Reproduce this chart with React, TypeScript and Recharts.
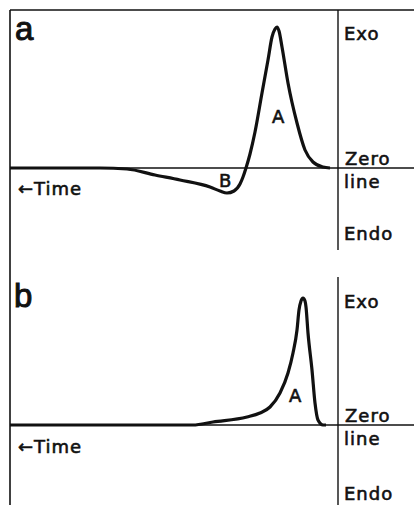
import React from 'react';
import { LineChart, Line, XAxis, YAxis, ReferenceLine } from 'recharts';

// Curve a: exotherm A preceded by endotherm B
const timeA = [0, 45, 58.5, 72.5, 85, 100, 105, 108.5, 112, 115, 116.5, 118, 120, 122.5, 126, 129, 131, 132.5, 133.5, 134.5, 136, 139, 143.5, 147.5, 151.5, 156.5, 160];
const heatA = [0, 0, -1, -7, -12, -19, -23, -25, -23, -16, -9, 0, 14, 36, 75, 108, 131, 139, 141, 137, 121, 85, 45, 18, 6, 1, 0];

// Curve b: exotherm A only
const timeB = [0, 91.5, 101.5, 118.5, 125, 130, 135, 139, 141.5, 143.5, 144.5, 145.5, 146.5, 147.5, 148, 149, 151, 152.5, 154, 156.5, 158];
const heatB = [0, 0, 3, 8, 12, 18, 32, 52, 72, 95, 115, 124, 127, 124, 118, 92, 55, 22, 5, 0, 0];

const rightLabels = ['Exo', 'Zero', 'line', 'Endo'];

const dataA = timeA.map((t, i) => ({ t, v: heatA[i] }));
const dataB = timeB.map((t, i) => ({ t, v: heatB[i] }));

const X_DOMAIN: [number, number] = [0, 202];
const EDGE = 164;
const ink = '#111';
const font = '"DejaVu Sans", sans-serif';

function Panel({ data, yDomain, top, height, boxTop, rightTop }: any) {
    return (
        <div style={{ position: 'absolute', left: 0, top }}>
            <LineChart width={414} height={height} data={data} margin={{ top: boxTop, right: 0, left: 10, bottom: 0 }}>
                <XAxis type="number" dataKey="t" domain={X_DOMAIN} allowDataOverflow hide />
                <YAxis type="number" domain={yDomain} allowDataOverflow hide />
                <ReferenceLine x={0} stroke={ink} strokeWidth={1.6} />
                {boxTop > 0 && <ReferenceLine y={yDomain[1]} stroke={ink} strokeWidth={1.6} />}
                <ReferenceLine y={0} stroke={ink} strokeWidth={1.6} />
                <ReferenceLine
                    segment={[{ x: EDGE, y: rightTop }, { x: EDGE, y: yDomain[0] }]}
                    stroke={ink}
                    strokeWidth={1.4}
                />
                <Line
                    type="monotone"
                    dataKey="v"
                    stroke={ink}
                    strokeWidth={3.2}
                    dot={false}
                    isAnimationActive={false}
                />
            </LineChart>
        </div>
    );
}

function Labels() {
    const t = { fontFamily: font, fontSize: 18, fill: ink, stroke: ink, strokeWidth: 0.6, letterSpacing: 1 } as const;
    const big = { fontFamily: '"Liberation Sans", Arial, sans-serif', fontSize: 33, fill: ink, stroke: ink, strokeWidth: 1 } as const;
    return (
        <svg width={414} height={505} style={{ position: 'absolute', left: 0, top: 0, pointerEvents: 'none' }}>
            <text x={15} y={40} style={big}>a</text>
            <text x={14} y={307} style={big}>b</text>

            <text x={344} y={40} style={t}>{rightLabels[0]}</text>
            <text x={345} y={165} style={t}>{rightLabels[1]}</text>
            <text x={344} y={188} style={t}>{rightLabels[2]}</text>
            <text x={344} y={240} style={t}>{rightLabels[3]}</text>

            <text x={344} y={308} style={t}>{rightLabels[0]}</text>
            <text x={345} y={422} style={t}>{rightLabels[1]}</text>
            <text x={344} y={445} style={t}>{rightLabels[2]}</text>
            <text x={344} y={500} style={t}>{rightLabels[3]}</text>

            <text x={18} y={195} style={t}>←Time</text>
            <text x={18} y={453} style={t}>←Time</text>

            <text x={219} y={187} style={t}>B</text>
            <text x={272} y={123} style={t}>A</text>
            <text x={289} y={402} style={t}>A</text>
        </svg>
    );
}

export default function App() {
    return (
        <div style={{ position: 'absolute', left: 0, top: 0, width: 414, height: 505, background: '#fff' }}>
            <Panel data={dataA} yDomain={[-82, 158]} top={0} height={250} boxTop={10} rightTop={158} />
            <Panel data={dataB} yDomain={[-80, 175]} top={250} height={255} boxTop={0} rightTop={148} />
            <Labels />
        </div>
    );
}
